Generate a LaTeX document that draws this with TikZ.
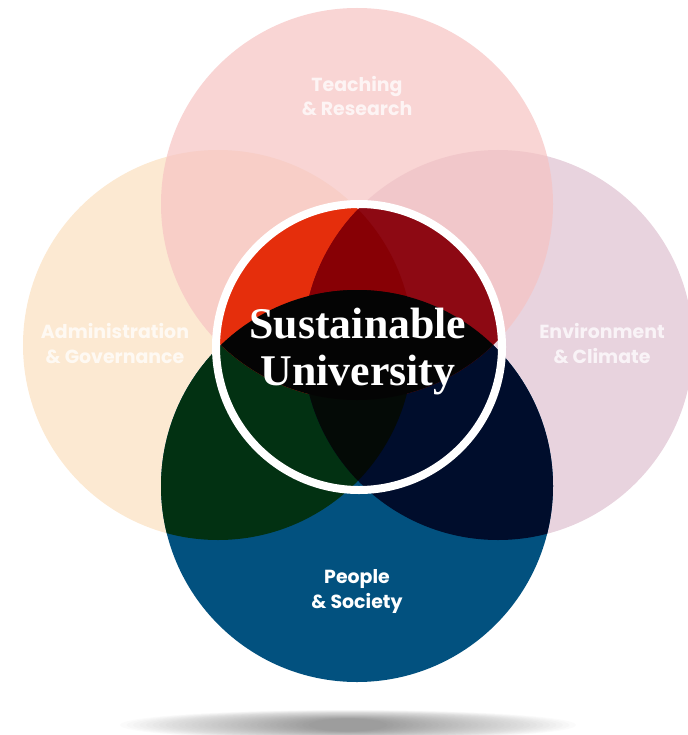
\documentclass[tikz,border=0pt]{standalone}
\usepackage{fontspec}
\newfontfamily\popfont{Poppins}
\newfontfamily\titlefont{Liberation Serif}
\definecolor{teachpink}{HTML}{F6C3C2}
\definecolor{adminpeach}{HTML}{FBE0BF}
\definecolor{envmauve}{HTML}{DEC0D0}
\definecolor{peopleblue}{HTML}{02517F}
\definecolor{leftgreen}{HTML}{023112}
\definecolor{rightnavy}{HTML}{000D2C}
\definecolor{brightred}{HTML}{E52E0C}
\definecolor{midred}{HTML}{870005}
\definecolor{crimson}{HTML}{8D0913}
\definecolor{bandblack}{HTML}{040404}
\definecolor{lensblack}{HTML}{040A06}

\begin{document}
\begin{tikzpicture}[x=1bp,y=-1bp,
    soft circle/.style={fill opacity=0.7},
    area label/.style={font=\popfont\bfseries\fontsize{19}{25}\selectfont,
                       align=center,anchor=base,text=white,text opacity=0.75},
    title line/.style={font=\titlefont\bfseries\fontsize{44}{47}\selectfont,
                       anchor=base,text=white}]
\useasboundingbox (0,0) rectangle (688,735);
\clip (0,0) rectangle (688,735);

\def\teachC{(357,204) circle[radius=196bp]}
\def\adminC{(218,345) circle[radius=195bp]}
\def\enviC{(498,345) circle[radius=195bp]}
\def\peopleC{(357,486) circle[radius=196bp]}
\def\coreC{(359,347) circle[radius=143bp]}

% shadow under the diagram
\foreach \i in {0,...,29}
  \fill[black,opacity=0.016] (348,725) ellipse[x radius={228bp-6.5bp*\i},y radius={15bp-0.3bp*\i}];

\fill[adminpeach,soft circle] \adminC;
\fill[envmauve,soft circle] \enviC;
\fill[teachpink,soft circle] \teachC;
\fill[peopleblue] \peopleC;
\begin{scope}
  \clip \peopleC;
  \fill[leftgreen] \adminC;
  \fill[rightnavy] \enviC;
\end{scope}

% the core
\begin{scope}
  \clip \coreC;
  \begin{scope}
    \clip \teachC;
    \fill[brightred] \adminC;
    \fill[crimson] \enviC;
    \clip \adminC;
    \fill[midred] \enviC;
  \end{scope}
  \begin{scope}
    \clip \peopleC;
    \clip \adminC;
    \fill[lensblack] \enviC;
  \end{scope}
  \begin{scope}
    \clip \teachC;
    \fill[bandblack] \peopleC;
  \end{scope}
\end{scope}
\draw[white,line width=8bp] \coreC;

\node[area label] (teach) at (357,116) {Teaching\\\& Research};
\node[area label] (admin) at (115,363) {Administration\\\& Governance};
\node[area label] (envi) at (602,363) {Environment\\\& Climate};
\node[area label,text opacity=1] (people) at (357,608) {People\\\& Society};

\node[title line] (sust) at (358,338) {Sustainable};
\node[title line] (univ) at (358,385) {University};
\end{tikzpicture}
\end{document}
